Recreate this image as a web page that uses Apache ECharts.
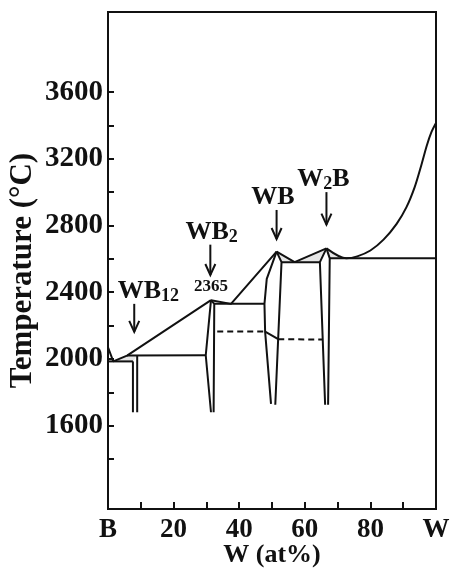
<!DOCTYPE html>
<html>
<head>
<meta charset="utf-8">
<script src="https://cdn.jsdelivr.net/npm/echarts@6/dist/echarts.min.js"></script>
<style>
html,body{margin:0;padding:0;background:#fff;}
#c{width:451px;height:569px;}
</style>
</head>
<body>
<div id="c"></div>
<script>
// ---- axis ticks / labels ----
const xTickValues = [10, 20, 30, 40, 50, 60, 70, 80, 90];
const xLabelValues = [0, 20, 40, 60, 80, 100];
const xLabelNames = ['B', '20', '40', '60', '80', 'W'];
const yTickValues = [1400, 1600, 1800, 2000, 2200, 2400, 2600, 2800, 3000, 3200, 3400, 3600];
const yLabelValues = [1600, 2000, 2400, 2800, 3200, 3600];

// ---- liquidus lines [W at%, T °C] ----
const liquidusB = [[0, 2070], [1.6, 1985], [5.8, 2020], [31.4, 2352]];
const liquidusWB2WB = [[31.4, 2352], [37.5, 2330], [51.4, 2643]];
const liquidusWBW2B = [[51.4, 2643], [56.9, 2580], [66.6, 2663]];
const liquidusW = [[66.6, 2663], [72.7, 2603], [76, 2615], [80, 2650], [84, 2715], [88, 2810], [91, 2910], [93.5, 3030], [95.5, 3160], [97.2, 3280], [98.6, 3360], [100, 3415]];

// ---- invariant (horizontal) lines ----
const eutectic1985 = [[0, 1985], [7.6, 1985]];
const peritectic2020 = [[5.8, 2020], [29.8, 2022]];
const eutectic2330 = [[32.4, 2330], [47.7, 2330]];
const eutectic2580 = [[52.9, 2580], [64.6, 2580]];
const eutectic2603 = [[67.6, 2603], [100, 2603]];

// ---- compound phase boundaries ----
const wb12Left = [[7.6, 1985], [7.6, 1680]];
const wb12Right = [[8.9, 2020], [8.9, 1680]];
const wb2Left = [[31.4, 2352], [29.8, 2022], [31.4, 1680]];
const wb2Right = [[31.4, 2352], [32.4, 2330], [32.2, 1680]];
const wbLeft = [[51.4, 2643], [48.4, 2480], [47.7, 2330], [47.9, 2164], [49.7, 1730]];
const wbRight = [[51.4, 2643], [52.9, 2580], [51.0, 1725]];
const w2bLeft = [[66.6, 2663], [64.6, 2580], [66.2, 1725]];
const w2bRight = [[66.6, 2663], [67.6, 2603], [67.1, 1725]];

// ---- polymorphic transitions ----
const transitionWB2 = [[33.3, 2164], [47.9, 2164]];
const transitionDiag = [[47.9, 2164], [51.9, 2118]];
const transitionWB = [[51.9, 2118], [65.4, 2116]];

// ---- small two-phase (liquid + solid) regions, lightly shaded ----
const shadeWB12 = [[1.6, 1985], [5.8, 2020], [8.9, 2020], [7.6, 1985]];
const shadeWB = [[51.4, 2643], [52.9, 2580], [56.9, 2580]];
const shadeW2BLeft = [[66.6, 2663], [64.6, 2580], [56.9, 2580]];
const shadeW2BRight = [[66.6, 2663], [67.6, 2603], [72.7, 2603]];

// ---- annotations ----
const annoTexts = ['{m|WB}{s|12}', '{m|WB}{s|2}', '{m|WB}', '{m|W}{s|2}{m|B}', '{n|2365}'];
const annoX = [12.3, 31.6, 50.3, 65.7, 31.4];
const annoT = [2404, 2761, 2971, 3078, 2431];
// arrows: [x, T start, T tip]
const arrows = [[8.0, 2330, 2162], [31.2, 2685, 2503], [51.4, 2893, 2719], [66.6, 3000, 2805]];

const FONT = "'Liberation Serif', 'Times New Roman', serif";
const INK = '#111';

function seg(name, data, opts) {
  opts = opts || {};
  return {
    name: name, type: 'line', data: data, symbol: 'none', showSymbol: false,
    smooth: opts.smooth || false,
    lineStyle: {color: INK, width: 2, type: opts.dashed ? [6, 4] : 'solid'},
    silent: true, animation: false, z: 3
  };
}

const shades = [shadeWB12, shadeWB, shadeW2BLeft, shadeW2BRight];
const annoData = annoTexts.map(function (t, i) { return [annoX[i], annoT[i], i]; });

const chart = echarts.init(document.getElementById('c'));
chart.setOption({
  backgroundColor: '#fff',
  animation: false,
  grid: {left: 108, right: 15, top: 12, bottom: 60, show: true, borderColor: INK, borderWidth: 2,
    outerBoundsMode: 'none', containLabel: false},
  xAxis: {
    type: 'value', min: 0, max: 100,
    axisLine: {show: true, lineStyle: {color: INK, width: 2}},
    axisTick: {show: true, inside: true, length: 7, lineStyle: {color: INK, width: 2}, customValues: xTickValues},
    axisLabel: {
      customValues: xLabelValues, margin: 8,
      formatter: function (v) { const i = xLabelValues.indexOf(v); return i >= 0 ? xLabelNames[i] : ''; },
      fontFamily: FONT, fontWeight: 'bold', fontSize: 27, color: INK
    },
    splitLine: {show: false},
    name: 'W (at%)', nameLocation: 'middle', nameGap: 33, nameMoveOverlap: false,
    nameTextStyle: {fontFamily: FONT, fontWeight: 'bold', fontSize: 26, color: INK}
  },
  yAxis: {
    type: 'value', min: 1100, max: 4080,
    axisLine: {show: true, lineStyle: {color: INK, width: 2}},
    axisTick: {show: true, inside: true, length: 6, lineStyle: {color: INK, width: 2}, customValues: yTickValues},
    axisLabel: {customValues: yLabelValues, margin: 5, formatter: function (v) { return String(v); },
      fontFamily: FONT, fontWeight: 'bold', fontSize: 29, color: INK},
    splitLine: {show: false},
    name: 'Temperature (°C)', nameLocation: 'middle', nameGap: 70, nameMoveOverlap: false,
    nameTextStyle: {fontFamily: FONT, fontWeight: 'bold', fontSize: 31, color: INK, padding: [0, 20, 0, 0]}
  },
  series: [
    {
      type: 'custom', name: 'shade', data: shades.map(function (s, i) { return [i]; }), silent: true, z: 1,
      encode: {x: -1, y: -1},
      renderItem: function (params, api) {
        const pts = shades[params.dataIndex].map(function (p) { return api.coord(p); });
        return {type: 'polygon', shape: {points: pts}, style: {fill: '#e6e6e6', stroke: null}};
      }
    },
    seg('liqB', liquidusB),
    seg('liqWB2WB', liquidusWB2WB),
    seg('liqWBW2B', liquidusWBW2B),
    seg('liqW', liquidusW, {smooth: 0.3}),
    seg('e1985', eutectic1985),
    seg('p2020', peritectic2020),
    seg('e2330', eutectic2330),
    seg('e2580', eutectic2580),
    seg('e2603', eutectic2603),
    seg('wb12L', wb12Left),
    seg('wb12R', wb12Right),
    seg('wb2L', wb2Left),
    seg('wb2R', wb2Right),
    seg('wbL', wbLeft),
    seg('wbR', wbRight),
    seg('w2bL', w2bLeft),
    seg('w2bR', w2bRight),
    seg('trWB2', transitionWB2, {dashed: true}),
    seg('trDiag', transitionDiag),
    seg('trWB', transitionWB, {dashed: true}),
    {
      type: 'custom', name: 'arrows', data: arrows, encode: {x: 0, y: [1, 2]}, silent: true, z: 4,
      renderItem: function (params, api) {
        const a = api.coord([api.value(0), api.value(1)]);
        const b = api.coord([api.value(0), api.value(2)]);
        return {
          type: 'group', children: [
            {type: 'line', shape: {x1: a[0], y1: a[1], x2: b[0], y2: b[1]}, style: {stroke: INK, lineWidth: 2}},
            {type: 'polyline', shape: {points: [[b[0] - 5, b[1] - 11], [b[0], b[1]], [b[0] + 5, b[1] - 11]]}, style: {stroke: INK, lineWidth: 2, fill: null}}
          ]
        };
      }
    },
    {
      type: 'custom', name: 'labels', data: annoData, encode: {x: 0, y: 1}, silent: true, z: 5,
      renderItem: function (params, api) {
        const p = api.coord([api.value(0), api.value(1)]);
        return {
          type: 'text', x: p[0], y: p[1],
          style: {
            text: annoTexts[params.dataIndex], align: 'center', verticalAlign: 'middle', fill: INK,
            rich: {
              m: {fontFamily: FONT, fontWeight: 'bold', fontSize: 26, fill: INK},
              s: {fontFamily: FONT, fontWeight: 'bold', fontSize: 18, fill: INK, padding: [10, 0, 0, 0]},
              n: {fontFamily: FONT, fontWeight: 'bold', fontSize: 17, fill: INK}
            }
          }
        };
      }
    }
  ]
});
</script>
</body>
</html>
